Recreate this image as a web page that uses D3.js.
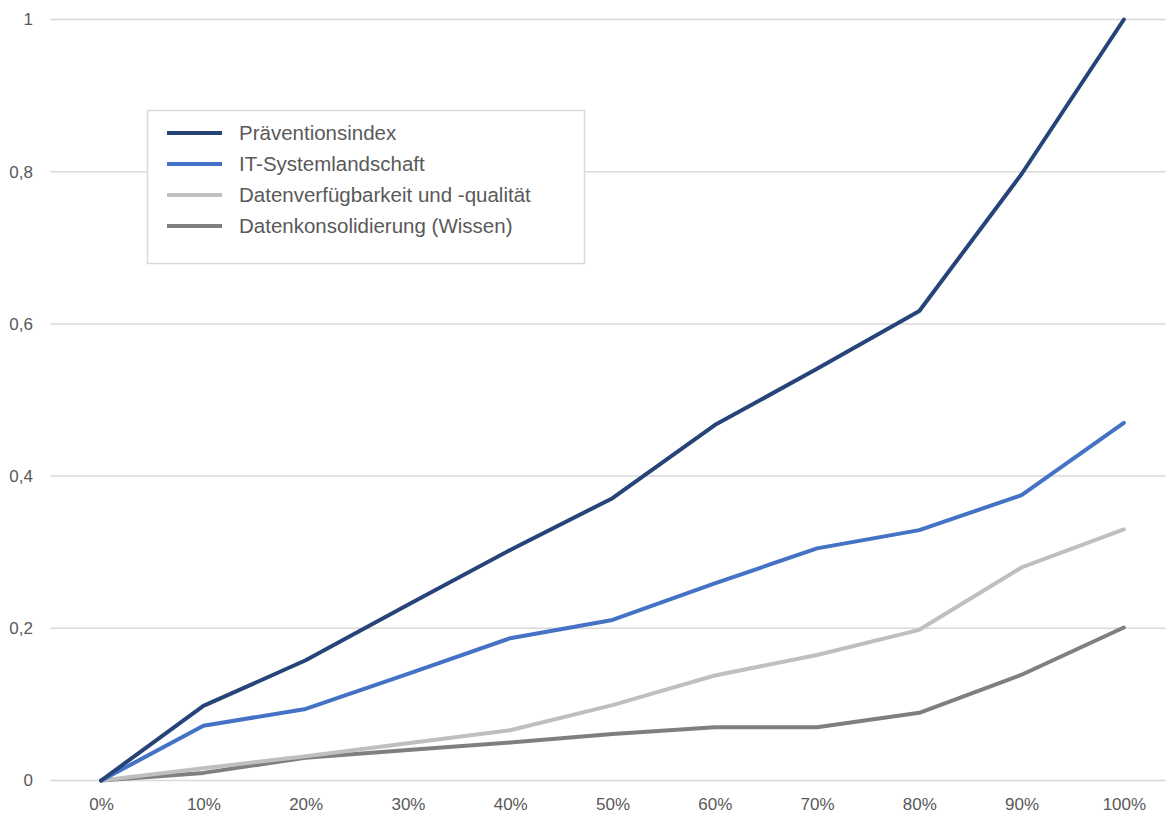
<!DOCTYPE html>
<html>
<head>
<meta charset="utf-8">
<script src="https://cdn.jsdelivr.net/npm/d3@7"></script>
<style>
  html, body { margin: 0; padding: 0; background: #fff; }
  svg { display: block; font-family: "Liberation Sans", Arial, sans-serif; }
</style>
</head>
<body>
<svg id="chart" width="1166" height="814"></svg>
<script>
// Categories along the x axis
const categories = ["0%", "10%", "20%", "30%", "40%", "50%", "60%", "70%", "80%", "90%", "100%"];

// Series values
const praeventionsindex   = [0, 0.098, 0.158, 0.231, 0.303, 0.371, 0.467, 0.541, 0.617, 0.797, 1.0];
const itSystemlandschaft  = [0, 0.072, 0.094, 0.140, 0.187, 0.211, 0.259, 0.305, 0.329, 0.375, 0.470];
const datenverfuegbarkeit = [0, 0.016, 0.032, 0.049, 0.066, 0.099, 0.138, 0.165, 0.198, 0.280, 0.330];
const datenkonsolidierung = [0, 0.010, 0.030, 0.040, 0.050, 0.061, 0.070, 0.070, 0.089, 0.139, 0.201];

const seriesNames  = ["Präventionsindex", "IT-Systemlandschaft", "Datenverfügbarkeit und -qualität", "Datenkonsolidierung (Wissen)"];
const seriesValues = [praeventionsindex, itSystemlandschaft, datenverfuegbarkeit, datenkonsolidierung];
const seriesColors = ["#264478", "#4472C4", "#BFBFBF", "#7F7F7F"];

// Y axis tick values and labels (German decimal comma)
const yTicks = [0, 0.2, 0.4, 0.6, 0.8, 1];
const yTickLabels = ["0", "0,2", "0,4", "0,6", "0,8", "1"];

const svg = d3.select("#chart");

const x = d3.scalePoint()
  .domain(categories)
  .range([50, 1175])
  .padding(0.5);

const y = d3.scaleLinear()
  .domain([0, 1])
  .range([780.5, 19.5]);

// Horizontal gridlines
svg.append("g")
  .selectAll("line")
  .data(yTicks)
  .join("line")
  .attr("x1", 50)
  .attr("x2", 1175)
  .attr("y1", d => y(d))
  .attr("y2", d => y(d))
  .attr("stroke", "#D9D9D9")
  .attr("stroke-width", 1.5);

// Y axis labels
const yAxis = d3.axisLeft(y)
  .tickValues(yTicks)
  .tickSize(0)
  .tickPadding(0)
  .tickFormat((d, i) => yTickLabels[i]);

svg.append("g")
  .attr("transform", "translate(33,0)")
  .call(yAxis)
  .call(g => g.select(".domain").remove())
  .call(g => g.selectAll("text")
    .attr("fill", "#595959")
    .attr("font-size", "17px")
    .attr("font-family", "Liberation Sans, Arial, sans-serif"));

// X axis labels
const xAxis = d3.axisBottom(x).tickSize(0).tickPadding(0);

svg.append("g")
  .attr("transform", "translate(0,797.5)")
  .call(xAxis)
  .call(g => g.select(".domain").remove())
  .call(g => g.selectAll("text")
    .attr("fill", "#595959")
    .attr("font-size", "17px")
    .attr("font-family", "Liberation Sans, Arial, sans-serif"));

// Lines
const line = d3.line()
  .x((d, i) => x(categories[i]))
  .y(d => y(d));

svg.append("g")
  .selectAll("path")
  .data(seriesValues.map((v, i) => ({ values: v, color: seriesColors[i] })).reverse())
  .join("path")
  .attr("d", d => line(d.values))
  .attr("fill", "none")
  .attr("stroke", d => d.color)
  .attr("stroke-width", 4)
  .attr("stroke-linejoin", "round")
  .attr("stroke-linecap", "round");

// Legend
const legend = svg.append("g");
legend.append("rect")
  .attr("x", 147.5)
  .attr("y", 110.5)
  .attr("width", 437)
  .attr("height", 153)
  .attr("fill", "#fff")
  .attr("stroke", "#D9D9D9")
  .attr("stroke-width", 1.5);

const legendRows = legend.selectAll("g.row")
  .data(seriesNames)
  .join("g")
  .attr("class", "row")
  .attr("transform", (d, i) => `translate(0,${133 + i * 31})`);

legendRows.append("line")
  .attr("x1", 167)
  .attr("x2", 222)
  .attr("y1", 0)
  .attr("y2", 0)
  .attr("stroke", (d, i) => seriesColors[i])
  .attr("stroke-width", 4);

legendRows.append("text")
  .attr("x", 239)
  .attr("y", 0)
  .attr("dy", "0.35em")
  .attr("fill", "#595959")
  .attr("font-size", "20.5px")
  .text(d => d);
</script>
</body>
</html>
